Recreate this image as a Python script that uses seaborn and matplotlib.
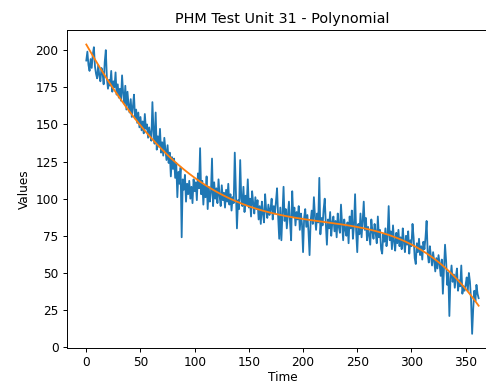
import numpy as np
import pandas as pd
import matplotlib
matplotlib.use("Agg")
import matplotlib.pyplot as plt
import seaborn as sns

title = "PHM Test Unit 31 - Polynomial"
x_label = "Time"
y_label = "Values"

values = [
    193, 199, 190, 186, 194, 188, 197, 202, 189, 184,
    181, 190, 183, 179, 188, 185, 177, 192, 200, 181,
    174, 180, 176, 186, 172, 179, 175, 185, 170, 177,
    168, 174, 166, 183, 171, 164, 176, 160, 172, 163,
    158, 167, 155, 162, 170, 154, 160, 151, 158, 148,
    155, 146, 152, 144, 157, 147, 150, 141, 148, 143,
    139, 165, 146, 137, 158, 133, 142, 135, 147, 131,
    138, 129, 141, 133, 126, 136, 124, 131, 115, 128,
    120, 127, 114, 124, 101, 118, 110, 121, 74, 113,
    106, 116, 98, 110, 103, 112, 100, 108, 97, 113,
    105, 111, 99, 117, 107, 134, 103, 112, 96, 109,
    101, 115, 93, 108, 98, 104, 127, 95, 111, 100,
    107, 97, 113, 102, 95, 109, 99, 104, 94, 106,
    98, 110, 96, 103, 92, 101, 97, 131, 105, 80,
    99, 93, 126, 100, 95, 108, 91, 102, 96, 113,
    94, 100, 88, 105, 97, 90, 101, 93, 99, 86,
    95, 83, 98, 90, 84, 103, 92, 87, 96, 89,
    93, 100, 86, 95, 90, 98, 107, 88, 73, 94,
    72, 90, 108, 85, 93, 80, 89, 98, 84, 72,
    105, 88, 94, 82, 91, 86, 95, 79, 90, 83,
    64, 87, 93, 81, 89, 78, 62, 85, 92, 83,
    101, 88, 79, 90, 84, 114, 76, 87, 82, 93,
    100, 83, 69, 86, 80, 91, 75, 84, 88, 78,
    85, 74, 90, 81, 77, 96, 83, 72, 86, 79,
    75, 84, 70, 88, 80, 92, 73, 82, 103, 78,
    64, 83, 76, 90, 74, 85, 98, 79, 87, 72,
    81, 75, 69, 86, 78, 73, 83, 77, 70, 88,
    74, 79, 66, 63, 76, 71, 80, 68, 75, 95,
    72, 78, 66, 82, 71, 65, 77, 70, 79, 68,
    74, 66, 80, 71, 64, 75, 69, 78, 63, 72,
    68, 83, 74, 60, 56, 70, 64, 73, 62, 68,
    59, 71, 66, 74, 85, 63, 57, 68, 61, 55,
    64, 58, 51, 60, 53, 62, 56, 48, 59, 36,
    52, 69, 58, 42, 50, 21, 46, 55, 44, 49,
    40, 47, 53, 38, 45, 41, 55, 36, 41, 38,
    42, 47, 38, 50, 44, 32, 9, 26, 38, 31,
    42, 36, 33,
]
poly_degree = 4

time = np.arange(len(values))
coef = np.polyfit(time, values, poly_degree)
fit = np.polyval(coef, time)
df = pd.DataFrame({"Time": time, "Values": values, "Fit": fit})

fig = plt.figure(figsize=(4.86, 3.83), dpi=100)
ax = fig.add_axes([0.1372, 0.0906, 0.888, 0.831])
sns.lineplot(data=df, x="Time", y="Values", ax=ax, color="#1f77b4", linewidth=1.3)
sns.lineplot(data=df, x="Time", y="Fit", ax=ax, color="#ff7f0e", linewidth=1.3)

ax.set_title(title, fontsize=10.4, pad=5)
ax.set_xlabel(x_label, fontsize=8.7, labelpad=1.5)
ax.set_ylabel(y_label, fontsize=8.7, labelpad=3)
ax.set_xticks([0, 50, 100, 150, 200, 250, 300, 350])
ax.set_yticks([0, 25, 50, 75, 100, 125, 150, 175, 200])
ax.tick_params(labelsize=8.7, length=3.0, width=0.7, pad=2.8)
for s in ax.spines.values():
    s.set_linewidth(0.7)

fig.savefig("out.png", dpi=100)
